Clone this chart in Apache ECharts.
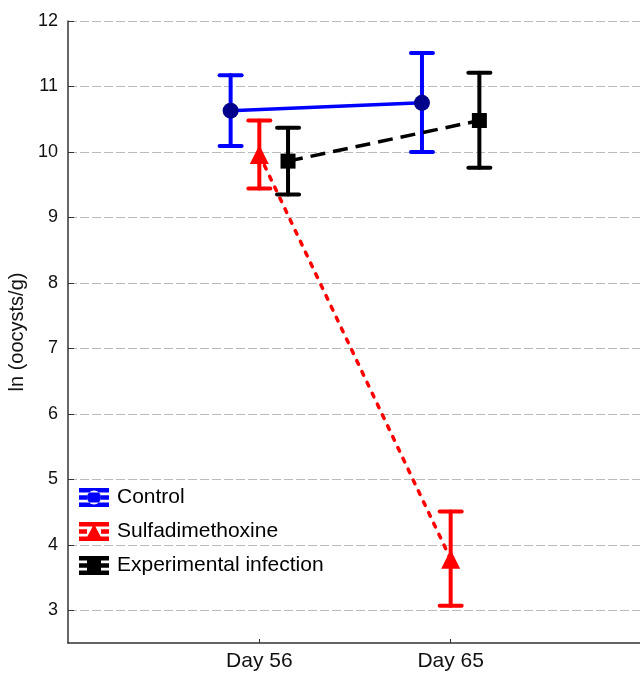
<!DOCTYPE html>
<html>
<head>
<meta charset="utf-8">
<script src="https://cdn.jsdelivr.net/npm/echarts@6/dist/echarts.min.js"></script>
<style>
    html, body { margin: 0; padding: 0; background: #fff; }
    #chart { width: 640px; height: 673px; }
</style>
</head>
<body>
<div id="chart"></div>
<script>
// days on the x axis (placed at 1 and 2 on a value axis, groups shifted sideways)
var days = ['Day 56', 'Day 65'];
var dayPos = [1, 2];
var yTicks = [3, 4, 5, 6, 7, 8, 9, 10, 11, 12];

// means and error bar ends, ln(oocysts/g)
var controlMean = [10.63, 10.75];
var controlLow = [10.09, 10.00];
var controlHigh = [11.17, 11.51];

var sulfaMean = [9.96, 3.78];
var sulfaLow = [9.44, 3.07];
var sulfaHigh = [10.48, 4.51];

var expMean = [9.86, 10.48];
var expLow = [9.35, 9.76];
var expHigh = [10.37, 11.21];

var FONT = 'Liberation Sans';

function points(mean, shift) {
    return mean.map(function (v, i) { return [dayPos[i] + shift, v]; });
}
function bars(low, high, shift) {
    return low.map(function (v, i) { return [dayPos[i] + shift, v, high[i]]; });
}

// vertical error bar with caps
function renderBar(params, api) {
    var lo = api.coord([api.value(0), api.value(1)]);
    var hi = api.coord([api.value(0), api.value(2)]);
    var half = 11;
    var st = { stroke: api.visual('color'), lineWidth: 4, lineCap: 'round' };
    return {
        type: 'group',
        children: [
            { type: 'line', shape: { x1: lo[0], y1: lo[1], x2: hi[0], y2: hi[1] }, style: st },
            { type: 'line', shape: { x1: lo[0] - half, y1: lo[1], x2: lo[0] + half, y2: lo[1] }, style: st },
            { type: 'line', shape: { x1: hi[0] - half, y1: hi[1], x2: hi[0] + half, y2: hi[1] }, style: st }
        ]
    };
}

// legend icons: horizontal error bar with the marker in the middle
var iconCircle = 'path://M0,0H30V4.5H0Z M0,7.3H8V11.7H0Z M22,7.3H30V11.7H22Z M0,14.5H30V19H0Z M8,9.5A7,7 0 1,0 22,9.5A7,7 0 1,0 8,9.5Z';
var iconTri = 'path://M0,0H30V4.5H0Z M0,7.3H8V11.7H0Z M22,7.3H30V11.7H22Z M0,14.5H30V19H0Z M15,2L23,17L7,17Z';
var iconSq = 'path://M0,0H30V4.5H0Z M0,7.3H8V11.7H0Z M22,7.3H30V11.7H22Z M0,14.5H30V19H0Z M8,2.5H22V16.5H8Z';

var myChart = echarts.init(document.getElementById('chart'));
var option = {
    animation: false,
    backgroundColor: '#fff',
    grid: { left: 68, top: 21, width: 574, bottom: 30, outerBoundsMode: 'none', containLabel: false },
    legend: {
        orient: 'vertical',
        left: 74,
        top: 482,
        itemWidth: 30,
        itemHeight: 19,
        itemGap: 13,
        textStyle: { fontFamily: FONT, fontSize: 21, color: '#000', padding: [0, 0, 0, 3] },
        data: [
            { name: 'Control', icon: iconCircle, itemStyle: { color: '#0000ff' } },
            { name: 'Sulfadimethoxine', icon: iconTri, itemStyle: { color: '#ff0000' } },
            { name: 'Experimental infection', icon: iconSq, itemStyle: { color: '#000' } }
        ]
    },
    xAxis: {
        type: 'value',
        min: 0,
        max: 3,
        interval: 1,
        axisLine: { lineStyle: { color: '#333', width: 1.5 } },
        axisTick: { inside: true, length: 4, customValues: dayPos, lineStyle: { color: '#333' } },
        axisLabel: {
            customValues: dayPos,
            fontFamily: FONT, fontSize: 21, color: '#111', margin: 8,
            formatter: function (v) { return days[dayPos.indexOf(v)] || ''; }
        },
        splitLine: { show: false }
    },
    yAxis: {
        type: 'value',
        min: 2.5,
        max: 12,
        name: 'ln (oocysts/g)',
        nameLocation: 'middle',
        nameGap: 39,
        nameTextStyle: { fontFamily: FONT, fontSize: 20, color: '#111' },
        axisLine: { show: true, lineStyle: { color: '#333', width: 1.5 } },
        axisTick: { show: true, inside: true, length: 6, customValues: yTicks, lineStyle: { color: '#333' } },
        axisLabel: { customValues: yTicks, fontFamily: FONT, fontSize: 18, color: '#111', margin: 10 },
        splitLine: { show: true, lineStyle: { color: '#bbb', type: [9, 3], width: 1 } }
    },
    series: [
        {
            name: 'Control', type: 'custom', renderItem: renderBar, z: 2,
            itemStyle: { color: '#0000ff' },
            data: bars(controlLow, controlHigh, -0.15)
        },
        {
            name: 'Sulfadimethoxine', type: 'custom', renderItem: renderBar, z: 2,
            itemStyle: { color: '#ff0000' },
            data: bars(sulfaLow, sulfaHigh, 0)
        },
        {
            name: 'Experimental infection', type: 'custom', renderItem: renderBar, z: 2,
            itemStyle: { color: '#000' },
            data: bars(expLow, expHigh, 0.15)
        },
        {
            name: 'Control', type: 'line', z: 3,
            symbol: 'circle', symbolSize: 16,
            itemStyle: { color: '#00008b' },
            lineStyle: { color: '#0000ff', width: 3.5 },
            data: points(controlMean, -0.15)
        },
        {
            name: 'Sulfadimethoxine', type: 'line', z: 3,
            symbol: 'triangle', symbolSize: 19,
            itemStyle: { color: '#ff0000' },
            lineStyle: { color: '#ff0000', width: 3.5, type: [4, 8], cap: 'round' },
            data: points(sulfaMean, 0)
        },
        {
            name: 'Experimental infection', type: 'line', z: 3,
            symbol: 'rect', symbolSize: 15,
            itemStyle: { color: '#000' },
            lineStyle: { color: '#000', width: 3.5, type: [15, 8] },
            data: points(expMean, 0.15)
        }
    ]
};
myChart.setOption(option);
</script>
</body>
</html>
